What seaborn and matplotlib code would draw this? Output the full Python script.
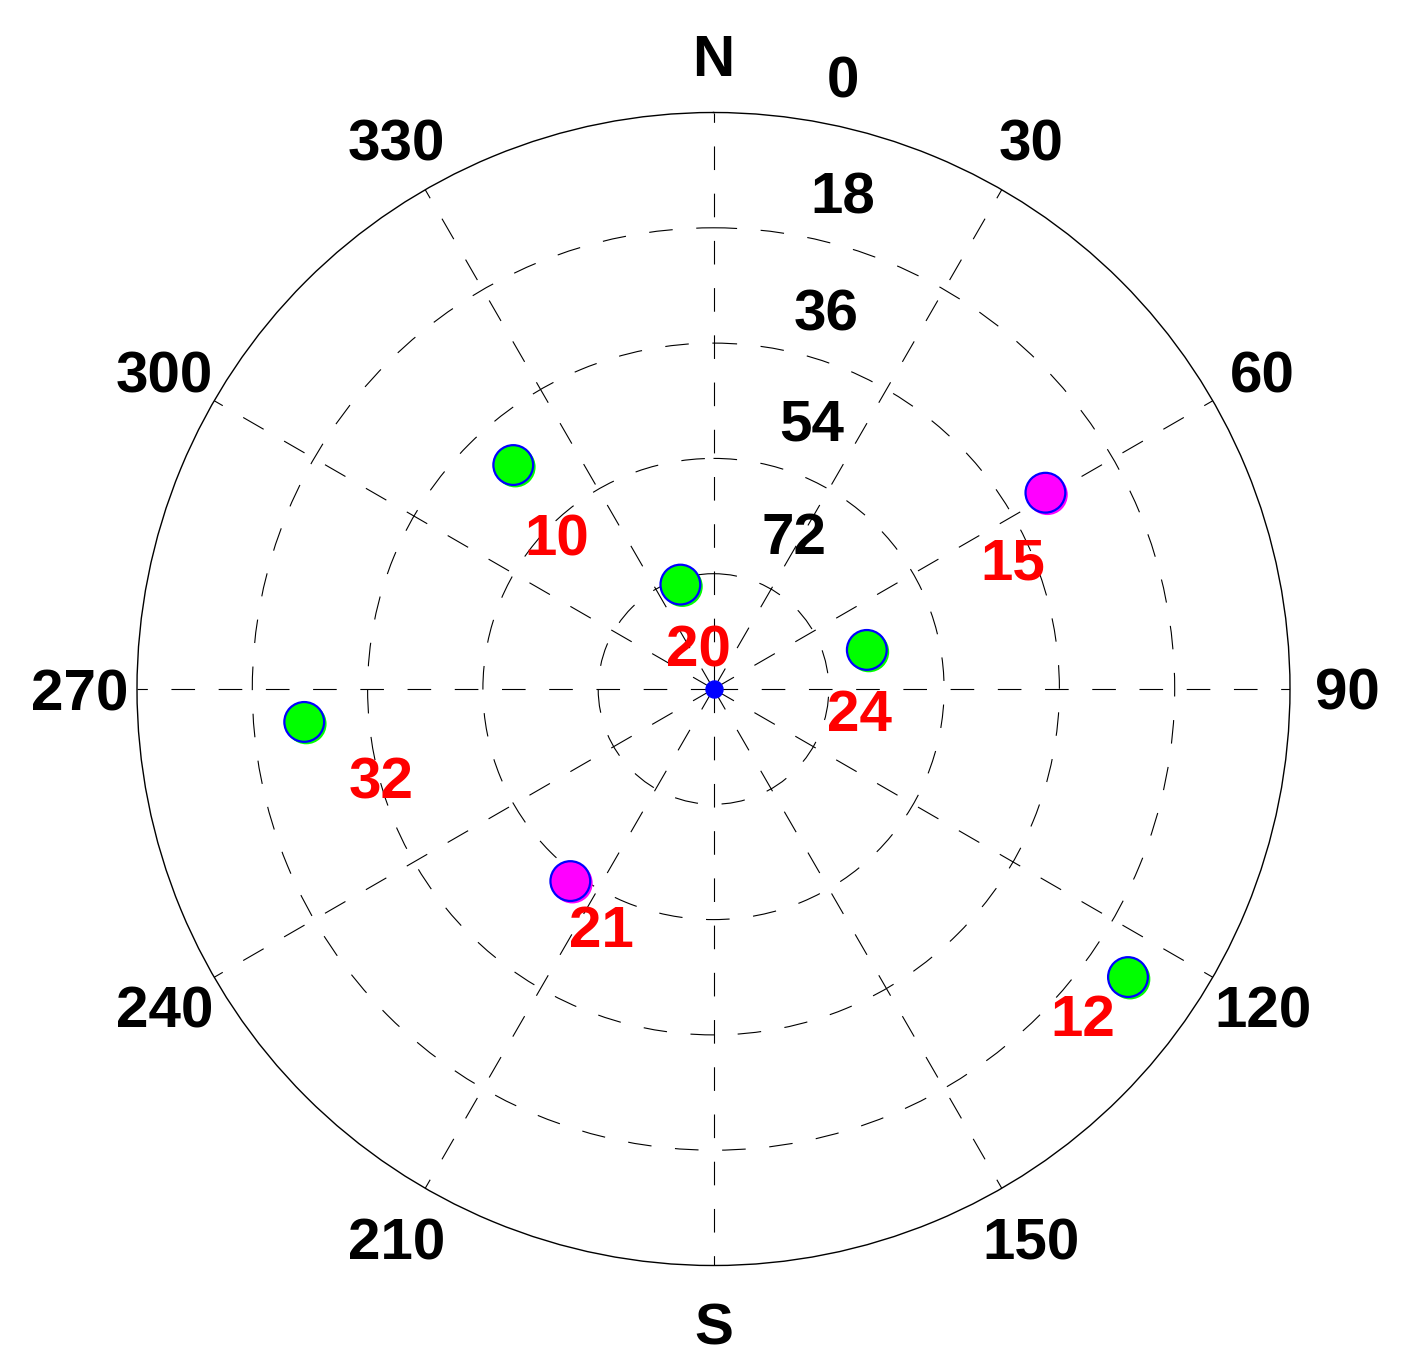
"""
Satellite sky plot: azimuth / elevation of tracked satellites
"""
import numpy as np
import pandas as pd
import matplotlib
matplotlib.use('Agg')
import matplotlib.pyplot as plt
import matplotlib.transforms as mtransforms
import seaborn as sns

# ─── Data ────────────────────────────────────────────────────────────────────
prn = ['10', '20', '24', '15', '32', '21', '12']
azimuth = [318.2, 342.4, 75.7, 59.4, 265.4, 216.7, 124.8]    # deg, clockwise from N
elevation = [43.1, 72.9, 65.3, 29.8, 25.9, 52.6, 11.2]       # deg
group = ['A', 'A', 'A', 'B', 'A', 'B', 'A']

az_ticks = [0, 30, 60, 90, 120, 150, 180, 210, 240, 270, 300, 330]
az_labels = ['N', '30', '60', '90', '120', '150', 'S', '210', '240', '270', '300', '330']
el_ticks = [0, 18, 36, 54, 72]

# ─── Styling ─────────────────────────────────────────────────────────────────
sns.set_style('white')
plt.rcParams['font.family'] = ['Liberation Sans', 'DejaVu Sans']
plt.rcParams['font.weight'] = 'bold'
plt.rcParams['lines.scale_dashes'] = False

FS = 42
GROUP_COLORS = {'A': '#00FF00', 'B': '#FF00FF'}
# label offsets (pixels) of PRN numbers relative to their marker
lab_dx = [43, 18, -7, -33, 77, 31, -45]
lab_dy = [-69, -61, -60, -66, -56, -45, -38]
# elevation labels, offset from the top of each ring
el_dx = [129, 129, 113, 98, 81]
el_dy = [36, 35, 34, 39, 41]

df = pd.DataFrame({'prn': prn, 'az': azimuth, 'el': elevation, 'group': group})
df['theta'] = np.deg2rad(df['az'])
df['zen'] = 90 - df['el']

fig = plt.figure(figsize=(14.02, 13.67), dpi=100)
ax = fig.add_axes([137 / 1402, (1367 - 1265.5) / 1367, 1153 / 1402, 1153 / 1367],
                  projection='polar')
ax.set_theta_zero_location('N')
ax.set_theta_direction(-1)
ax.set_rlim(0, 90)

ax.set_thetagrids(az_ticks, labels=[''] * len(az_ticks))
ax.set_rgrids([90 - e for e in el_ticks[1:]], labels=[''] * (len(el_ticks) - 1))
ax.grid(True, color='black', linewidth=0.8, linestyle=(0, (17, 17)))
ax.spines['polar'].set_color('black')
ax.spines['polar'].set_linewidth(1.0)

# satellites (slightly shifted fill underneath, then outlined marker)
shift = mtransforms.offset_copy(ax.transData, fig=fig, x=2, y=-2, units='dots')
sns.scatterplot(data=df, x='theta', y='zen', hue='group', palette=GROUP_COLORS,
                s=860, edgecolor='none', legend=False, ax=ax, zorder=4,
                transform=shift, clip_on=False)
sns.scatterplot(data=df, x='theta', y='zen', hue='group', palette=GROUP_COLORS,
                s=820, edgecolor='#0000FF', linewidth=1.6, legend=False,
                ax=ax, zorder=5, clip_on=False)
# receiver position at zenith
ax.scatter([0], [0], s=150, color='#0000FF', zorder=6)
ax.set_xlabel('')
ax.set_ylabel('')

# PRN labels
for i, row in df.iterrows():
    ax.annotate(row['prn'], xy=(row['theta'], row['zen']),
                xytext=(lab_dx[i], lab_dy[i] - 21), textcoords='offset pixels',
                ha='center', va='baseline', fontsize=FS, fontweight='bold',
                color='#FF0000', zorder=7)

# azimuth labels
for a, lab in zip(az_ticks, az_labels):
    ax.annotate(lab, xy=(np.deg2rad(a), 99), xytext=(0, -21), textcoords='offset pixels',
                ha='center', va='baseline', fontsize=FS, fontweight='bold',
                color='black', annotation_clip=False)

# elevation labels
for k, e in enumerate(el_ticks):
    ax.annotate(str(e), xy=(0, 90 - e), xytext=(el_dx[k], el_dy[k] - 21),
                textcoords='offset pixels', ha='center', va='baseline',
                fontsize=FS, fontweight='bold', color='black', annotation_clip=False)

fig.savefig('out.png', dpi=100, facecolor='white')
plt.close()
